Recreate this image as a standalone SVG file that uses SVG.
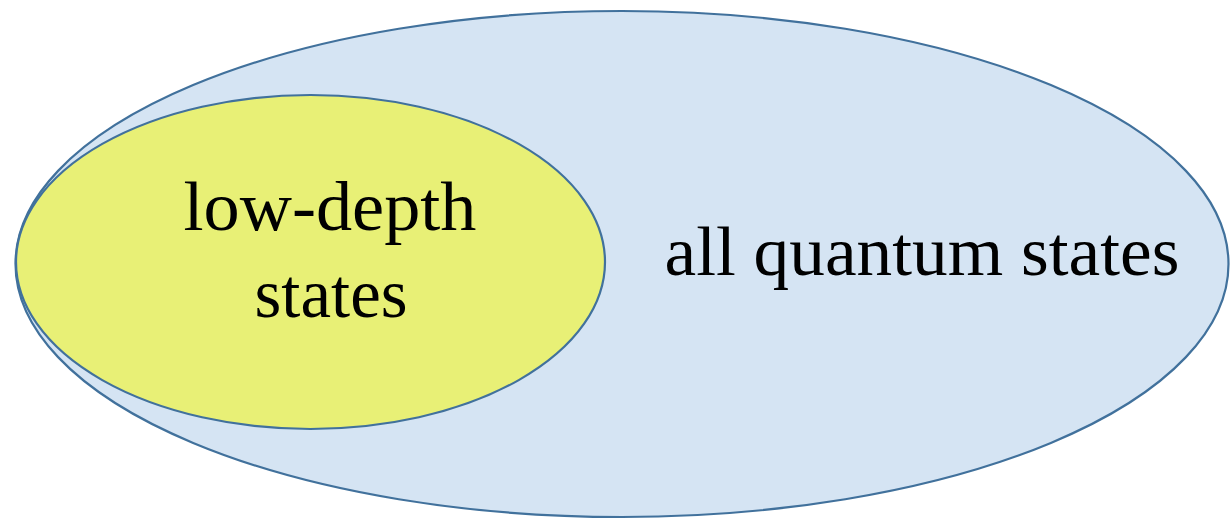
<svg xmlns="http://www.w3.org/2000/svg" width="1230" height="519" viewBox="0 0 1230 519">
<style>
.set{stroke:#41719c;stroke-width:2.2}
.lbl{font-family:"Liberation Serif","Times New Roman",serif;font-size:70px;fill:#000;text-anchor:middle}
</style>
<rect width="1230" height="519" fill="#fff"/>
<g id="all-states">
<ellipse class="set" cx="622" cy="264" rx="606.5" ry="253" fill="#d5e4f3"/>
<text class="lbl" x="922" y="275" textLength="515" lengthAdjust="spacingAndGlyphs">all quantum states</text>
</g>
<g id="low-depth">
<ellipse class="set" cx="310.5" cy="262" rx="294.5" ry="167" fill="#e8f076"/>
<text class="lbl" x="330" y="230" textLength="293" lengthAdjust="spacingAndGlyphs">low-depth</text>
<text class="lbl" x="331" y="317" textLength="153" lengthAdjust="spacingAndGlyphs">states</text>
</g>
<g id="connectors"/>
</svg>
